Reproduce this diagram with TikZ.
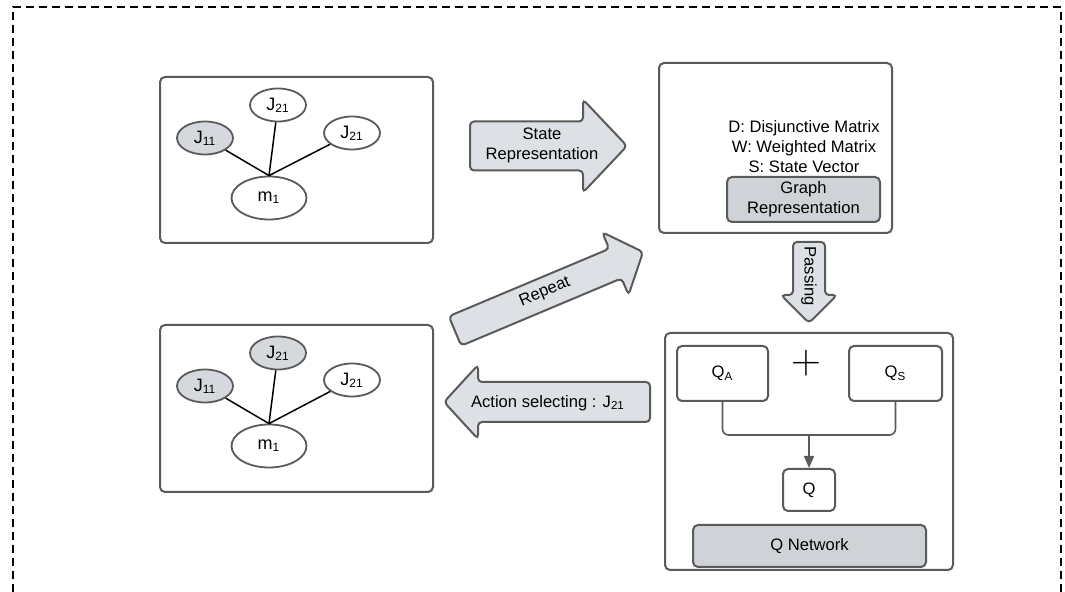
\documentclass[tikz,border=0pt]{standalone}
\usepackage{fontspec}
\setmainfont{Liberation Sans}
\usetikzlibrary{shapes.geometric}
\usetikzlibrary{arrows.meta}

\definecolor{edgegray}{HTML}{5A5A5A}
\definecolor{arrowfill}{HTML}{DDE1E6}
\definecolor{panelfill}{HTML}{CFD3D7}
\definecolor{jobfill}{HTML}{D5D8DC}

\tikzset{
  every node/.style={font=\fontsize{8.3}{10}\selectfont},
  frame/.style={draw=edgegray,line width=1pt,rounded corners=2.5pt,inner sep=0pt},
  shaded/.style={frame,fill=panelfill},
  job/.style={ellipse,draw=edgegray,line width=0.9pt,fill=white,inner sep=0pt,minimum width=28pt,minimum height=16.5pt,font=\fontsize{9}{11}\selectfont},
  picked/.style={fill=jobfill},
  link/.style={line width=0.75pt},
  wire/.style={draw=edgegray,line width=0.8pt,rounded corners=3pt},
  arrowbody/.style={draw=edgegray,fill=arrowfill,line width=1pt,rounded corners=2pt},
  pics/fatarrow/.style args={#1/#2/#3/#4}{code={
    \draw[arrowbody] (0,-#2) -- (#1-#4,-#2) -- (#1-#4,-#3) -- (#1,0)
      -- (#1-#4,#3) -- (#1-#4,#2) -- (0,#2) -- cycle;
  }}
}

\begin{document}
\begin{tikzpicture}[x=0.5pt,y=-0.5pt]
  \useasboundingbox (0,0) rectangle (1065,592);
  \draw[line width=1pt,dash pattern=on 4pt off 2.5pt] (13,592) |- (1061,7) -- (1061,592);

  %graph before
  \node[frame,minimum width=136.5pt,minimum height=83pt] (before) at (296.5,160) {};
  \node[job] (bj21) at (278,105) {J\textsubscript{21}};
  \node[job] (bj22) at (352,133) {J\textsubscript{21}};
  \node[job,picked] (bj11) at (205,138) {J\textsubscript{11}};
  \node[job,minimum width=37.5pt,minimum height=21.5pt] (bm1) at (269,198) {m\textsubscript{1}};
  \draw[link] (bj11) -- (bm1.north);
  \draw[link] (bj21) -- (bm1.north);
  \draw[link] (bj22) -- (bm1.north);

  %graph after
  \node[frame,minimum width=136.5pt,minimum height=83.5pt] (after) at (296.5,408.5) {};
  \node[job,picked] (aj21) at (278,353) {J\textsubscript{21}};
  \node[job] (aj22) at (352,380) {J\textsubscript{21}};
  \node[job,picked] (aj11) at (205,386) {J\textsubscript{11}};
  \node[job,minimum width=37.5pt,minimum height=21.5pt] (am1) at (269,446) {m\textsubscript{1}};
  \draw[link] (aj11) -- (am1.north);
  \draw[link] (aj21) -- (am1.north);
  \draw[link] (aj22) -- (am1.north);

  %state
  \node[frame,minimum width=116.5pt,minimum height=85pt] (state) at (775.5,148) {};
  \node[align=center,inner sep=0pt] (matrices) at (804,147)
    {D: Disjunctive Matrix\\W: Weighted Matrix\\S: State Vector};
  \node[shaded,align=center,minimum width=76.5pt,minimum height=22.5pt] (graphrep) at (803.5,199.5)
    {Graph\\Representation};

  %q network
  \node[frame,minimum width=144pt,minimum height=118.5pt] (qpanel) at (809,451.5) {};
  \node[frame,minimum width=45.5pt,minimum height=27.5pt] (qa) at (722.5,373.5) {Q\textsubscript{A}};
  \node[frame,minimum width=46.5pt,minimum height=27.5pt] (qs) at (895.5,373.5) {Q\textsubscript{S}};
  \node[font=\fontsize{20}{20}\selectfont,inner sep=0pt] (plus) at (806,363) {$+$};
  \node[frame,minimum width=26pt,minimum height=21pt] (q) at (809,490) {Q};
  \node[shaded,minimum width=116.5pt,minimum height=21pt] (qnet) at (809.5,546) {Q Network};
  \coordinate (merge) at (809,435);
  \draw[wire] (qa.south) |- (merge) -| (qs.south);
  \draw[wire,-{Triangle[length=6pt,width=5pt]},fill=edgegray] (merge) -- (q.north);

  %big arrows
  \pic at (470,146) {fatarrow=157/24.5/46.5/44};
  \node[align=center,inner sep=0pt] (staterep) at (542,145) {State\\Representation};

  \pic[rotate=22.8] at (455,331) {fatarrow=204/16/34/30};
  \node[rotate=22.8,inner sep=0pt] (repeat) at (545,292) {Repeat};

  \pic[rotate=-90] at (809,242) {fatarrow=81/16/28/28};
  \node[rotate=-90,inner sep=0pt] (passing) at (809,276) {Passing};

  \pic[rotate=180] at (650,402) {fatarrow=206/20/37/34};
  \node[inner sep=0pt] (action) at (548,403) {Action selecting : J\textsubscript{21}};
\end{tikzpicture}
\end{document}
